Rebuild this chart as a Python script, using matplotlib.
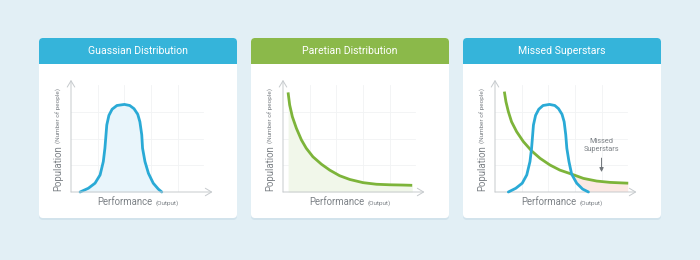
import matplotlib
matplotlib.use("Agg")
import matplotlib.pyplot as plt
from matplotlib.patches import FancyBboxPatch, Rectangle

# ---------------- data ----------------
titles = ["Guassian Distribution", "Paretian Distribution", "Missed Superstars"]
header_colors = ["#35b4da", "#8bb94a", "#35b4da"]
x_label, x_note = "Performance", "(Output)"
y_label, y_note = "Population", "(Number of people)"
annotation = "Missed\nSuperstars"

gauss_x = [0.34, 0.65, 0.90, 1.09, 1.21, 1.27, 1.30, 1.34, 1.42, 1.54, 1.72, 2.00,
           2.20, 2.36, 2.50, 2.58, 2.65, 2.68, 2.77, 2.90, 3.08, 3.27, 3.40]
gauss_y = [0.00, 0.14, 0.33, 0.64, 1.14, 1.64, 2.01, 2.51, 2.87, 3.10, 3.24, 3.28,
           3.24, 3.12, 2.91, 2.63, 2.14, 1.64, 1.14, 0.70, 0.33, 0.11, 0.00]

pareto_x = [0.19, 0.25, 0.35, 0.50, 0.69, 0.87, 1.12, 1.44, 1.75, 2.12,
            2.50, 3.00, 3.50, 4.00, 4.50, 4.84]
pareto_y = [3.73, 3.26, 2.82, 2.39, 1.95, 1.64, 1.32, 1.04, 0.82, 0.61,
            0.47, 0.35, 0.29, 0.27, 0.26, 0.25]

missed_gauss_x = [0.50, 0.78, 1.02, 1.19, 1.31, 1.37, 1.40, 1.44, 1.52, 1.64, 1.80, 2.04,
                  2.24, 2.38, 2.51, 2.59, 2.65, 2.69, 2.77, 2.87, 3.06, 3.28, 3.50]
missed_gauss_y = [0.00, 0.14, 0.33, 0.64, 1.14, 1.64, 2.01, 2.51, 2.87, 3.10, 3.24, 3.28,
                  3.24, 3.12, 2.91, 2.63, 2.14, 1.64, 1.14, 0.67, 0.33, 0.11, 0.00]

missed_pareto_x = [0.35, 0.41, 0.50, 0.62, 0.81, 1.06, 1.37, 1.69, 2.06, 2.43,
                   2.87, 3.31, 3.81, 4.31, 4.99]
missed_pareto_y = [3.76, 3.38, 3.01, 2.63, 2.26, 1.89, 1.54, 1.26, 1.01, 0.82,
                   0.67, 0.51, 0.41, 0.36, 0.33]

# ---------------- style ----------------
BG = "#e2eff5"
BLUE = "#2aaad6"
GREEN = "#7db43a"
BLUE_FILL = "#e9f5fb"
GREEN_FILL = "#f1f7ea"
PINK_FILL = "#fbe9e4"
AXIS_C = "#c6cacd"
GRID_C = "#f1f3f4"
TEXT_C = "#7d8287"
FONT = ["Roboto", "DejaVu Sans"]

W, H = 700, 260
fig = plt.figure(figsize=(7, 2.6), dpi=100)
fig.patch.set_facecolor(BG)
bg = fig.add_axes([0, 0, 1, 1])
bg.set_xlim(0, W)
bg.set_ylim(H, 0)
bg.axis("off")
renderer = fig.canvas.get_renderer()

card_lefts = [39, 251, 463]
card_w, top, bottom, header_h = 198, 38, 218, 26
U = 26.7  # pixels per grid unit
XMAX, YMAX = 5.3, 4.2


def rbox(x, y, w, h, fc, z):
    bg.add_patch(FancyBboxPatch((x, y), w, h,
                                boxstyle="round,pad=0,rounding_size=4",
                                fc=fc, ec="none", zorder=z))


axes = []
for i, cl in enumerate(card_lefts):
    rbox(cl, top + 2, card_w, bottom - top, "#d2e3ec", 1)
    rbox(cl, top, card_w, bottom - top, "white", 2)
    rbox(cl, top, card_w, header_h, header_colors[i], 3)
    bg.add_patch(Rectangle((cl, top + header_h - 6), card_w, 6,
                           fc=header_colors[i], ec="none", zorder=3))
    bg.text(cl + card_w / 2, top + header_h / 2 + 0.5, titles[i], color="white",
            fontsize=7.6, family=FONT,
            ha="center", va="center", zorder=4)

    # x label
    cx = cl + card_w / 2
    t1 = bg.text(0, 0, x_label, fontsize=6.9, family=FONT,
                 color=TEXT_C, va="baseline", ha="left", zorder=4)
    t2 = bg.text(0, 0, x_note, fontsize=4.6, family=FONT,
                 color=TEXT_C, va="baseline", ha="left", zorder=4)
    w1 = t1.get_window_extent(renderer).width
    w2 = t2.get_window_extent(renderer).width
    gap = 3
    start = cx - (w1 + gap + w2) / 2
    t1.set_position((start, 205))
    t2.set_position((start + w1 + gap, 205))

    # y label (rotated)
    lx = cl + 19
    s1 = bg.text(lx, 191, y_label, fontsize=6.9, family=FONT,
                 color=TEXT_C, rotation=90, ha="center", va="bottom", zorder=4)
    h1 = s1.get_window_extent(renderer).height
    bg.text(lx + 0.8, 191 - h1 - 2.5, y_note, fontsize=4.6, family=FONT,
            color=TEXT_C, rotation=90,
            ha="center", va="bottom", zorder=4)

    ax = fig.add_axes([(cl + 32) / W, (H - 192) / H, XMAX * U / W, YMAX * U / H])
    ax.set_xlim(0, XMAX)
    ax.set_ylim(0, YMAX)
    ax.axis("off")
    ax.patch.set_alpha(0)
    for gx in [1, 2, 3, 4]:
        ax.plot([gx, gx], [0, 4], color=GRID_C, lw=0.6, zorder=1)
    for gy in [1, 2, 3]:
        ax.plot([0, 4.96], [gy, gy], color=GRID_C, lw=0.6, zorder=1)
    arrow = dict(arrowstyle="->,head_length=0.5,head_width=0.3", color=AXIS_C,
                 lw=0.7, shrinkA=0, shrinkB=0, mutation_scale=9)
    ax.annotate("", xy=(XMAX, 0), xytext=(0, 0), arrowprops=arrow,
                annotation_clip=False, zorder=5)
    ax.annotate("", xy=(0, YMAX), xytext=(0, 0), arrowprops=arrow,
                annotation_clip=False, zorder=5)
    axes.append(ax)

LW = 2.0
# Panel 1
ax = axes[0]
ax.fill_between(gauss_x, gauss_y, 0, color=BLUE_FILL, lw=0, zorder=2)
ax.plot(gauss_x, gauss_y, color=BLUE, lw=LW, solid_capstyle="round",
        solid_joinstyle="round", zorder=4, clip_on=False)

# Panel 2
ax = axes[1]
ax.fill_between(pareto_x, pareto_y, 0, color=GREEN_FILL, lw=0, zorder=2)
ax.plot(pareto_x, pareto_y, color=GREEN, lw=LW, solid_capstyle="butt",
        solid_joinstyle="round", zorder=4, clip_on=False)

# Panel 3
ax = axes[2]
ci = missed_pareto_x.index(2.87)
gi = missed_gauss_x.index(2.87)
poly_x = missed_pareto_x[ci:] + [missed_pareto_x[-1], missed_gauss_x[-1]] + missed_gauss_x[gi:][::-1]
poly_y = missed_pareto_y[ci:] + [0, 0] + missed_gauss_y[gi:][::-1]
ax.fill(poly_x, poly_y, color=PINK_FILL, lw=0, zorder=2)
ax.plot(missed_pareto_x, missed_pareto_y, color=GREEN, lw=LW, solid_capstyle="butt",
        solid_joinstyle="round", zorder=4, clip_on=False)
ax.plot(missed_gauss_x, missed_gauss_y, color=BLUE, lw=LW, solid_capstyle="round",
        solid_joinstyle="round", zorder=5, clip_on=False)
ax.text(3.99, 1.73, annotation, fontsize=5.3, family=FONT,
        color=TEXT_C, ha="center", va="center", linespacing=1.2, zorder=6)
ax.annotate("", xy=(3.99, 0.75), xytext=(3.99, 1.27),
            arrowprops=dict(arrowstyle="-|>,head_length=0.4,head_width=0.2",
                            color="#6f7479", lw=0.7, shrinkA=0, shrinkB=0,
                            mutation_scale=6), zorder=6)

fig.savefig("out.png", dpi=100, facecolor=BG)
